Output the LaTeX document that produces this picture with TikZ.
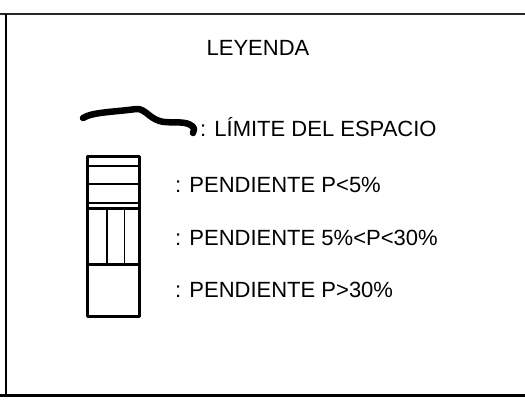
\documentclass[tikz,border=0pt]{standalone}
\usepackage{fontspec}
\setmainfont{Liberation Sans}
\begin{document}
\begin{tikzpicture}[x=1pt,y=-1pt,
  lbl/.style={anchor=west,inner sep=0pt,font=\fontsize{22}{26}\selectfont},
  frame/.style={line width=1.5pt},
  boxline/.style={line width=3pt},
  thinline/.style={line width=1.5pt}]
\useasboundingbox (0,0) rectangle (525,405);
% frame
\draw[frame,black!85] (0,14) -- (525,14);
\draw[frame] (6,14) -- (6,395);
\draw[line width=3pt] (0,395) -- (525,395);
% title
\node[lbl,anchor=center] (title) at (258,48) {LEYENDA};
% limit curve
\draw[line width=6.5pt,line cap=round,line join=round]
  (83,118) .. controls (92,112) and (115,112) .. (136,109)
  .. controls (146,108) and (150,121) .. (165,122)
  .. controls (176,123) and (186,121) .. (192,126)
  .. controls (195,128) and (194,131) .. (193,133);
\node[lbl] (lim) at (200,127) {: LÍMITE DEL ESPACIO};
% legend box
\draw[boxline,line join=round] (87.5,156.5) rectangle (139.5,316);
\draw[thinline] (88,166) -- (139,166);
\draw[thinline] (88,184) -- (139,184);
\draw[thinline] (88,203) -- (139,203);
\draw[boxline] (88,208.5) -- (139,208.5);
\draw[thinline] (107,208) -- (107,264);
\draw[thinline] (124.5,208) -- (124.5,264);
\draw[boxline] (88,264) -- (139,264);
\node[lbl] (p1) at (175,185) {: PENDIENTE P<5\%};
\node[lbl] (p2) at (175,238) {: PENDIENTE 5\%<P<30\%};
\node[lbl] (p3) at (175,290) {: PENDIENTE P>30\%};
\end{tikzpicture}
\end{document}
